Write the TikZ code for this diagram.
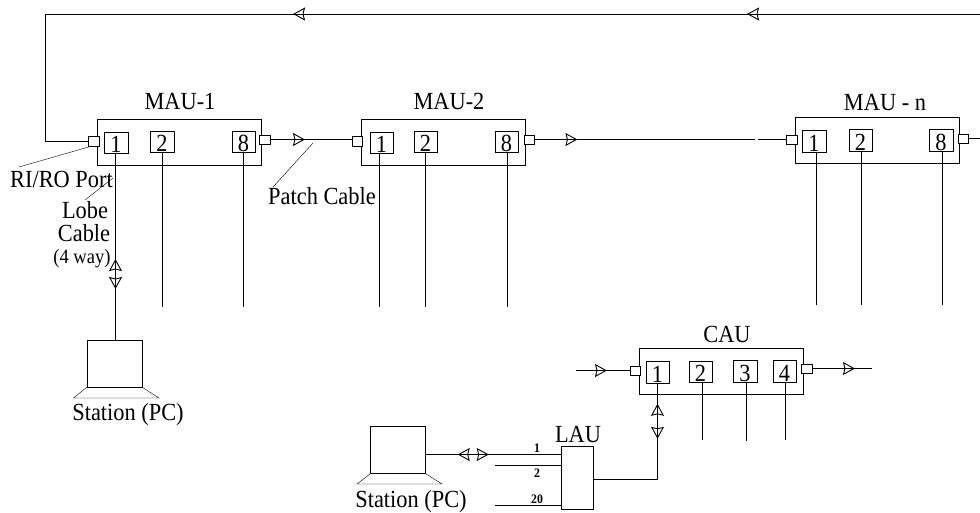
\documentclass[tikz,border=0pt]{standalone}
\usepackage{fontspec}
\setmainfont[FakeStretch=0.91]{Liberation Serif}
\usetikzlibrary{arrows.meta,decorations.markings}
\tikzset{
  x=1pt,y=-1pt,
  line width=1pt,
  tipshape/.tip={Stealth[open,length=12pt,width=13pt,inset=1.5pt,line width=0.9pt]},
  fwd/.style={postaction={decorate,decoration={markings,mark=at position #1pt with {\arrow{tipshape}}}}},
  rev/.style={postaction={decorate,decoration={markings,mark=at position #1pt with {\arrowreversed{tipshape}}}}},
  unit/.style={draw,rectangle,inner sep=0,minimum width=164pt,minimum height=46pt},
  subbox/.style={draw,fill=none,rectangle,minimum width=23.5pt,text height=20.5pt,text depth=0pt,inner sep=0.5pt,font=\fontsize{24.6}{26}\selectfont},
  port/.style={draw,fill=white,rectangle,inner sep=0,minimum width=10.5pt,minimum height=9.5pt},
  screen/.style={draw,rectangle,inner sep=0,minimum width=55pt,minimum height=47pt},
  lauunit/.style={draw,rectangle,inner sep=0,minimum width=32pt,minimum height=63pt},
  lbl/.style={anchor=base,inner sep=0,font=\fontsize{24.6}{26}\selectfont},
  smalllbl/.style={anchor=base,inner sep=0,font=\fontsize{20.4}{22}\selectfont},
  pinlbl/.style={anchor=base,inner sep=0,font=\fontsize{13}{15}\selectfont\bfseries},
}
\begin{document}
\begin{tikzpicture}
\useasboundingbox (0,0) rectangle (980,512);
% MAU-1
\node[unit] (m1) at (179,142) {};
\node[port] (m1l) at (93.5,141) {};
\node[port] (m1r) at (264.5,139.5) {};
\node[subbox] (m1a) at (116,142.5) {1};
\node[subbox] (m1b) at (162,141.5) {2};
\node[subbox] (m1c) at (243.5,141.5) {8};
\node[lbl] (m1t) at (180,109) {MAU-1};
% MAU-2
\node[unit] (m2) at (443,142) {};
\node[port] (m2l) at (357,141) {};
\node[port] (m2r) at (529,139.5) {};
\node[subbox] (m2a) at (381.5,142.5) {1};
\node[subbox] (m2b) at (425.5,141.5) {2};
\node[subbox] (m2c) at (506.5,141.5) {8};
\node[lbl] (m2t) at (449,109) {MAU-2};
% MAU-n
\node[unit] (mn) at (877,140) {};
\node[port] (mnl) at (791.5,139.5) {};
\node[port] (mnr) at (963,138.5) {};
\node[subbox] (mna) at (814,141) {1};
\node[subbox] (mnb) at (860.5,140) {2};
\node[subbox] (mnc) at (941,140) {8};
\node[lbl] (mnt) at (885,110) {MAU - n};
% CAU
\node[unit] (c) at (721,371) {};
\node[port] (cl) at (635,370.5) {};
\node[port] (cr) at (806.5,368.5) {};
\node[subbox] (ca) at (657.5,372) {1};
\node[subbox] (cb) at (700.5,371.5) {2};
\node[subbox] (cc) at (745,371) {3};
\node[subbox] (cd) at (784.5,371) {4};
\node[lbl] (ct) at (727,342) {CAU};
% LAU
\node[lauunit] (lau) at (577,477.5) {};
\node[lbl] (laut) at (578,442) {LAU};
\node[pinlbl] (p1) at (537,452) {1};
\node[pinlbl] (p2) at (537,477) {2};
\node[pinlbl] (p20) at (537,503) {20};
% Stations
\node[screen] (s1) at (114.5,363.5) {};
\node[lbl] (s1t) at (128,420) {Station (PC)};
\node[screen] (s2) at (398,450) {};
\node[lbl] (s2t) at (411,507) {Station (PC)};
\draw (s1.south west) -- (73.5,398) -- (159,398) -- (s1.south east);
\draw (s2.south west) -- (357,484) -- (442,484) -- (s2.south east);
% Text labels
\node[lbl] (riro) at (61.5,187) {RI/RO Port};
\node[lbl] (lobe) at (85,218) {Lobe};
\node[lbl] (cable) at (84,241) {Cable};
\node[smalllbl] (way) at (82,263) {(4 way)};
\node[lbl] (patch) at (322,204) {Patch Cable};
% Free ends
\coordinate (tr) at (980,14);
\coordinate (tl) at (45.5,14);
\coordinate (rr) at (980,138.5);
\coordinate (m2end) at (755,139.5);
\coordinate (mnstart) at (758,139.5);
\coordinate (e1b) at (162,307);
\coordinate (e1c) at (243.5,307);
\coordinate (e2a) at (379.5,307);
\coordinate (e2b) at (425.5,307);
\coordinate (e2c) at (507.5,307);
\coordinate (ena) at (816.5,305);
\coordinate (enb) at (861.5,305);
\coordinate (enc) at (942.5,305);
\coordinate (cin) at (576,370.5);
\coordinate (cout) at (872,368.5);
\coordinate (cbe) at (702.5,440);
\coordinate (cce) at (746.5,441);
\coordinate (cde) at (785.5,440);
\coordinate (l1) at (561,454.5);
\coordinate (l2) at (561,465.5);
\coordinate (l20) at (561,505.5);
\coordinate (l2s) at (495,465.5);
\coordinate (l20s) at (495,505.5);
\coordinate (corner) at (657.5,479.5);
\coordinate (r1a) at (19,167);
\coordinate (r1b) at (92,146);
\coordinate (r2a) at (85,200);
\coordinate (r2b) at (113,178);
\coordinate (r3a) at (273,187);
\coordinate (r3b) at (313,143);
% Ring
\draw[fwd=233,fwd=687] (tr) -- (tl) -- (tl |- m1l) -- (m1l.west);
\draw[fwd=35] (m1r.east) -- (m1r.east -| m2l.west);
\draw[fwd=43] (m2r.east) -- (m2end);
\draw (mnstart) -- (mnl.west);
\draw (mnr.east) -- (rr);
% Lobes
\coordinate (q) at (115.5,153);
\draw[rev=106,fwd=136] (q) -- (q |- s1.north);
\draw (m1b.south) -- (e1b);
\draw (m1c.south) -- (e1c);
\draw (m2a.south -| e2a) -- (e2a);
\draw (m2b.south -| e2b) -- (e2b);
\draw (m2c.south -| e2c) -- (e2c);
\draw (mna.south -| ena) -- (ena);
\draw (mnb.south -| enb) -- (enb);
\draw (mnc.south -| enc) -- (enc);
% CAU
\draw[fwd=31] (cin) -- (cl.west);
\draw[fwd=43] (cr.east) -- (cout);
\draw (cb.south -| cbe) -- (cbe);
\draw (cc.south -| cce) -- (cce);
\draw (cd.south -| cde) -- (cde);
\draw[rev=105,fwd=140] (lau.east |- corner) -- (corner) -- (ca.south);
% LAU
\draw[rev=32,fwd=63] (s2.east |- l1) -- (l1);
\draw (l2s) -- (l2);
\draw (l20s) -- (l20);
% Pointers
\draw (r1a) -- (r1b);
\draw (r2a) -- (r2b);
\draw (r3a) -- (r3b);
\end{tikzpicture}
\end{document}
